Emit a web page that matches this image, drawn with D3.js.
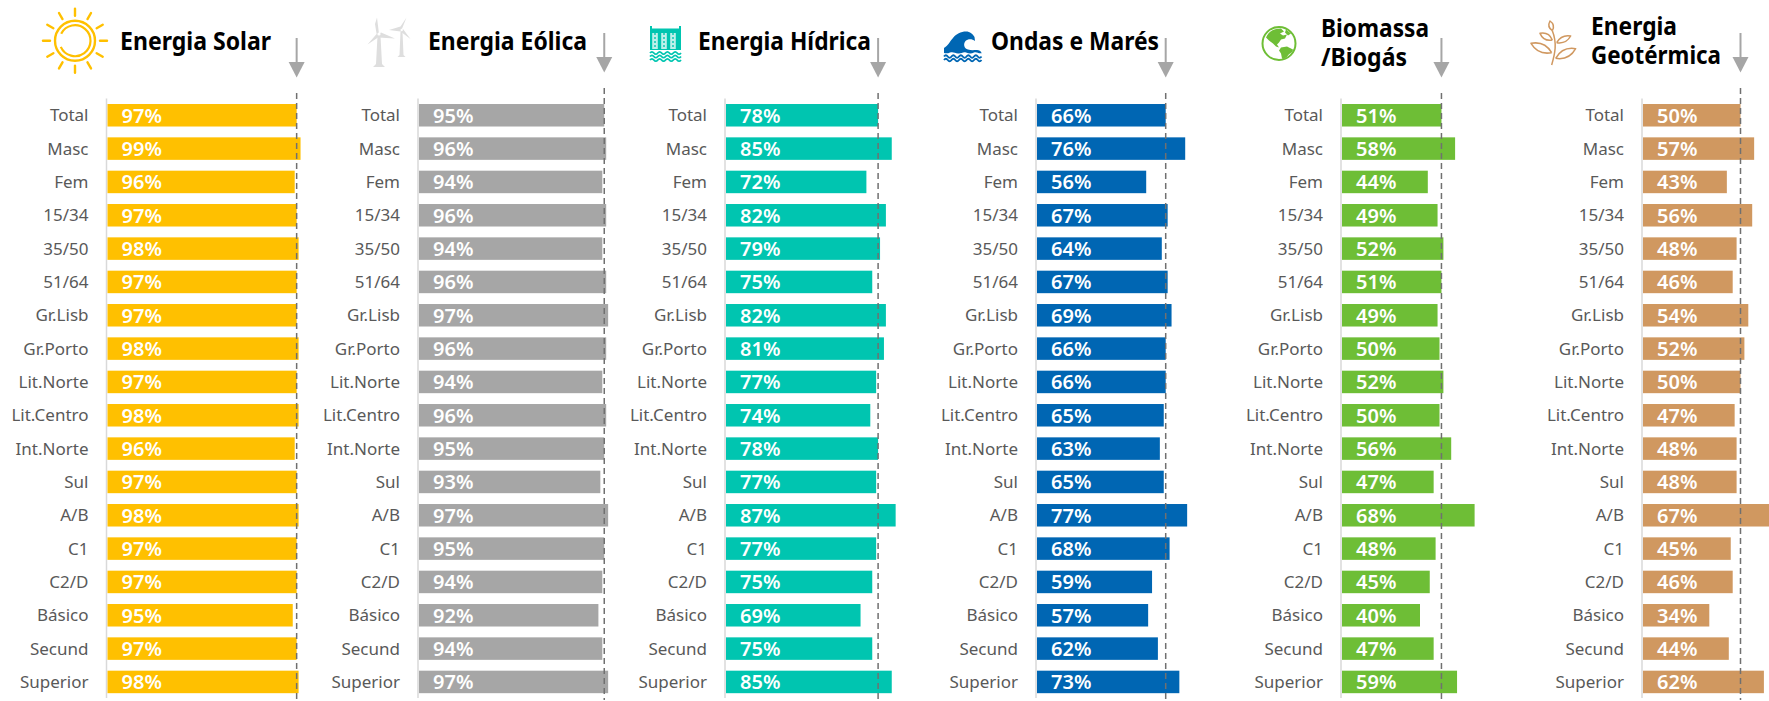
<!DOCTYPE html>
<html><head><meta charset="utf-8">
<script src="https://cdn.jsdelivr.net/npm/d3@7/dist/d3.min.js"></script>
<style>html,body{margin:0;padding:0;background:#fff;overflow:hidden}svg{display:block}
text{font-family:"Noto Sans",sans-serif}</style></head><body>
<svg id="c" width="1769" height="701"></svg>
<script>
const categories=["Total","Masc","Fem","15/34","35/50","51/64","Gr.Lisb","Gr.Porto","Lit.Norte","Lit.Centro","Int.Norte","Sul","A/B","C1","C2/D","Básico","Secund","Superior"];
const solar=[97,99,96,97,98,97,97,98,97,98,96,97,98,97,97,95,97,98];
const eolica=[95,96,94,96,94,96,97,96,94,96,95,93,97,95,94,92,94,97];
const hidrica=[78,85,72,82,79,75,82,81,77,74,78,77,87,77,75,69,75,85];
const ondas=[66,76,56,67,64,67,69,66,66,65,63,65,77,68,59,57,62,73];
const biomassa=[51,58,44,49,52,51,49,50,52,50,56,47,68,48,45,40,47,59];
const geotermica=[50,57,43,56,48,46,54,52,50,47,48,48,67,45,46,34,44,62];
const titles=[["Energia Solar"],["Energia Eólica"],["Energia Hídrica"],["Ondas e Marés"],["Biomassa","/Biogás"],["Energia","Geotérmica"]];
const colors=["#ffc000","#a6a6a6","#00c5b0","#0066b3","#6ebe36","#d09860"];
const series=[solar,eolica,hidrica,ondas,biomassa,geotermica];
const axisX=[106.5,418,725,1036,1341,1642];
const titleX=[120,428,698,991,1321,1591];
const titleEnd=[[271],[587],[871],[1159],[1429,1407],[1677,1721]];
const titleY=[[50],[50],[50],[50],[37,66],[35,64]];
const arrowTop=[38,33,38,38,38,33];
const dashTop=[93,88,93,93,93,88];

const svg=d3.select("#c");
const y=d3.scaleBand().domain(categories).range([98.6,698.6]).paddingInner(0.325).paddingOuter(0.1625);
const x=d3.scaleLinear().domain([0,100]).range([0,195]);
const refX=i=>axisX[i]+1+x(series[i][0]);

series.forEach((vals,i)=>{
  const g=svg.append("g").attr("transform",`translate(${axisX[i]},0)`);
  g.append("line").attr("x1",0).attr("x2",0).attr("y1",98.5).attr("y2",698).attr("stroke","#d9d9d9").attr("stroke-width",1.5);
  const rows=g.selectAll("g.r").data(categories).join("g").attr("class","r");
  rows.append("rect").attr("x",1).attr("y",c=>y(c)).attr("height",y.bandwidth())
    .attr("width",(c,j)=>x(vals[j])).attr("fill",colors[i]);
  rows.append("text").attr("x",-18).attr("y",c=>y(c)+y.bandwidth()/2+6).attr("text-anchor","end")
    .attr("font-size",17).attr("fill","#595959").text(c=>c);
  rows.append("text").attr("x",15).attr("y",c=>y(c)+y.bandwidth()/2+7.5)
    .attr("font-size",20).attr("font-weight",600).attr("fill","#fff").text((c,j)=>vals[j]+"%");
  const rx=x(vals[0])+1;
  g.append("line").attr("x1",rx).attr("x2",rx).attr("y1",dashTop[i]).attr("y2",700)
    .attr("stroke","#707070").attr("stroke-width",1.5).attr("stroke-dasharray","6 4");
  const t=arrowTop[i];
  g.append("line").attr("x1",rx).attr("x2",rx).attr("y1",t).attr("y2",t+26).attr("stroke","#a6a6a6").attr("stroke-width",2);
  g.append("path").attr("d",`M${rx-8},${t+24}L${rx+8},${t+24}L${rx},${t+39.5}Z`).attr("fill","#a6a6a6");
  titles[i].forEach((line,k)=>{
    svg.append("text").attr("x",titleX[i]).attr("y",titleY[i][k]).attr("font-size",25).attr("font-weight",700)
      .attr("fill","#000").attr("textLength",titleEnd[i][k]-titleX[i]).attr("lengthAdjust","spacingAndGlyphs").text(line);
  });
});

// Icons
const sun=svg.append("g").attr("transform","translate(75,40.7)").attr("fill","none").attr("stroke",colors[0]).attr("stroke-linecap","round");
sun.append("circle").attr("r",20).attr("stroke-width",2.4);
sun.append("path").attr("stroke-width",2.2).attr("d",d3.arc()({innerRadius:15.5,outerRadius:15.5,startAngle:-1.1,endAngle:4.3}));
d3.range(12).forEach(k=>{const a=k*Math.PI/6;
  sun.append("line").attr("x1",25*Math.sin(a)).attr("y1",-25*Math.cos(a)).attr("x2",32*Math.sin(a)).attr("y2",-32*Math.cos(a)).attr("stroke-width",2.4);});

const wind=svg.append("g").attr("fill","#dedede");
wind.append("path").attr("d","M379,34L377,17.5L375,24L376.6,34L367.5,44.5L378,37.5L395,38.5L381,32.5Z");
wind.append("path").attr("d","M377.5,36L376,64L373,67L385,67L382,64L380.5,36Z");
wind.append("path").attr("d","M401.5,30L406.5,17.5L400.5,26.5L389,30L400.5,31.5L410.5,39L403,29Z");
wind.append("path").attr("d","M400.5,32L399.5,55L397.5,57L405.5,57L403.5,55L402.5,32Z");
wind.append("circle").attr("cx",379).attr("cy",34).attr("r",1.6).attr("fill","#fff");
wind.append("circle").attr("cx",401.7).attr("cy",30).attr("r",1.2).attr("fill","#fff");

const dam=svg.append("g").attr("fill",colors[2]);
dam.append("path").attr("d","M650,26L652,26L652,28.5L679,28.5L679,26L681,26L681,50L650,50Z");
[655,664,673].forEach(cx=>{
  dam.append("rect").attr("x",cx-2.8).attr("y",33).attr("width",5.6).attr("height",16).attr("fill","#bff0ea");
  dam.append("path").attr("d",`M${cx},33V49`).attr("stroke",colors[2]).attr("stroke-width",1.4).attr("stroke-dasharray","2 2");
});
const waveLine=(x0,x1,yy)=>{const n=Math.round((x1-x0)/8);let s=`M${x0},${yy}`;const w=(x1-x0)/n;
  for(let k=0;k<n;k++)s+=`q${w/4},-2.4 ${w/2},0q${w/4},2.4 ${w/2},0`;return s;};
[53,56.5,60].forEach(yy=>svg.append("path").attr("d",waveLine(650,681,yy)).attr("fill","none").attr("stroke",colors[2]).attr("stroke-width",1.8));

const wv=svg.append("g");
wv.append("path").attr("fill",colors[3]).attr("d","M944,53L944,48C948,46 950,41 953,38C956,34 961,31.5 966,31.5C970,31.5 973,34 974.5,37L975,41C972,38.5 968,38.5 965.5,41C963,44 964,48.5 968,49.5C971,50.5 974,50 977,50C979,50 981,51 981.7,53.2C978,53.8 977,51.5 974,52.5C971,54 969,53.5 966,52.5C963,51.5 961,54 958,53.5C955,53 953,51.5 950,52.5C948,53.5 946,53.5 944,53Z");
[56.5,60].forEach(yy=>wv.append("path").attr("d",waveLine(944,981.5,yy)).attr("fill","none").attr("stroke",colors[3]).attr("stroke-width",1.9));

const gl=svg.append("g").attr("transform","translate(1279,43.5)");
gl.append("circle").attr("r",16.5).attr("fill","#fff").attr("stroke",colors[4]).attr("stroke-width",2);
gl.append("path").attr("fill",colors[4]).attr("d","M-13,-6C-10,-13 -4,-15 2,-15L5,-12L1,-10L4,-8L8,-9L6,-5L2,-4L0,-1L-2,1L0,4L-3,3L-6,0L-10,-3Z");
gl.append("path").attr("fill",colors[4]).attr("d","M2,4L8,3L14,6C14,9 10,10 9,12C7,15 4,16 3,15L2,10L0,7Z");
gl.append("path").attr("fill",colors[4]).attr("d","M7,-14L12,-10L9,-8L6,-11Z");

const pl=svg.append("g").attr("fill","none").attr("stroke",colors[5]).attr("stroke-width",1.5).attr("stroke-linejoin","round");
const P=(a,b)=>[1520+a/3,10+b/3];
const leaf=(a,b,bend)=>{const A=P(...a),B=P(...b),mx=(A[0]+B[0])/2,my=(A[1]+B[1])/2,dx=B[0]-A[0],dy=B[1]-A[1];
  const n=bend;return `M${A}Q${mx-dy*n},${my+dx*n} ${B}Q${mx+dy*n},${my-dx*n} ${A}`;};
pl.append("path").attr("d",`M${P(95,165)}C${P(105,130)} ${P(112,100)} ${P(97,62)}`);
[[[97,62],[90,33],.45],[[97,90],[60,70],.4],[[110,98],[152,78],.35],[[95,128],[33,100],.35],[[107,145],[167,116],.35]].forEach(d=>pl.append("path").attr("d",leaf(d[0],d[1],d[2])));
</script></body></html>
